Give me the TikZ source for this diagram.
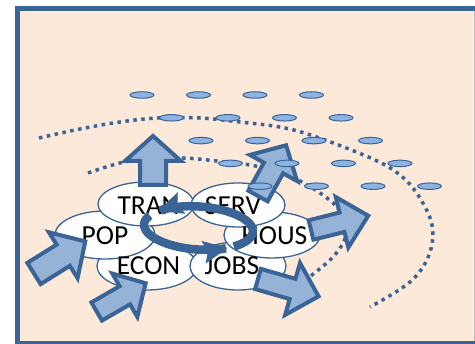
\documentclass[tikz,border=0pt]{standalone}
\usepackage{fontspec}
\newfontfamily\calib{Carlito}
\usetikzlibrary{shapes.geometric,arrows.meta}
\definecolor{peach}{HTML}{FDE9D9}
\definecolor{dkblue}{HTML}{3A6496}
\definecolor{arrfill}{HTML}{95B3D7}
\definecolor{dotfill}{HTML}{8DB3E2}
\tikzset{
 blob/.style={ellipse, draw=dkblue, line width=1.3pt, fill=white, inner sep=0pt},
 lbl/.style={font=\calib\fontsize{27.5}{27.5}\selectfont, inner sep=0pt, anchor=base, text=black},
 dotE/.style={ellipse, draw=dkblue, line width=1pt, fill=dotfill, minimum width=24pt, minimum height=6.5pt, inner sep=0pt},
 barrowstyle/.style={draw=dkblue, fill=arrfill, line width=4pt, line join=miter},
 dotline/.style={draw=dkblue, line width=3.5pt, dash pattern=on 3.5pt off 4.5pt},
 ring/.style={draw=dkblue, line width=8.5pt, -{Stealth[length=24pt,width=22pt,inset=4pt]}},
}
% #1 x, #2 y (tail centre), #3 angle, #4 length, #5 shaft half width, #6 head half width, #7 head length
\newcommand\blockarr[7]{%
 \begin{scope}[shift={(#1,#2)}, rotate=#3]
 \draw[barrowstyle] (0,-#5) -- (#4-#7,-#5) -- (#4-#7,-#6) -- (#4,0) -- (#4-#7,#6) -- (#4-#7,#5) -- (0,#5) -- cycle;
 \end{scope}}
\begin{document}
\begin{tikzpicture}[x=1pt,y=-1pt]
\useasboundingbox (0,0) rectangle (475,344);
\clip (0,0) rectangle (475,344);
\fill[white] (0,0) rectangle (475,344);
\fill[peach] (17.5,8.5) rectangle (480,350);
% dotted curves
\draw[dotline] plot[smooth, tension=0.6] coordinates {(39,138) (80,129) (120,122) (158,118) (200,118) (240,122) (285,128) (325,140) (375,160) (400,175) (418,195) (432,225) (429,255) (410,282) (370,307)};
\draw[dotline] plot[smooth, tension=0.6] coordinates {(88,173) (120,163) (150,159) (183,158) (217,161) (250,165) (280,172) (302,182) (320,193) (337,207) (346,225) (344,241) (332,258) (312,275) (300,284)};
% central ellipses
\node[blob, minimum width=100pt, minimum height=48pt] (eECON) at (147,266) {};
\node[blob, minimum width=96pt, minimum height=48pt] (eJOBS) at (238,266) {};
\node[blob, minimum width=100pt, minimum height=48pt] (ePOP) at (105,235) {};
\node[blob, minimum width=96pt, minimum height=46pt] (eHOUS) at (272,235) {};
\node[blob, minimum width=96pt, minimum height=44pt] (eTRAN) at (146,204) {};
\node[blob, minimum width=94pt, minimum height=44pt] (eSERV) at (238,205) {};
% labels
\node[lbl] (tTRAN) at (148.5,215) {TRAN};
\node[lbl] (tSERV) at (233,215) {SERV};
\node[lbl] (tPOP) at (105,245) {POP};
\node[lbl] (tHOUS) at (274.5,245) {HOUS};
\node[lbl] (tECON) at (148.5,275) {ECON};
\node[lbl] (tJOBS) at (232,275) {JOBS};
% block arrows
\blockarr{153}{185}{90}{49}{13}{28}{25}
\blockarr{258}{196}{61}{58}{11}{27}{26}
\blockarr{311}{230}{14}{59}{10}{26}{27}
\blockarr{258}{279}{-16}{63}{10.5}{27}{27}
\blockarr{34}{273.5}{32}{60.5}{12.5}{27}{26}
\blockarr{96.7}{311.5}{30}{56.5}{10.5}{25}{24}
% circular arrows
\draw[ring] plot[domain=-48:139, samples=70, variable=\t] ({198.5+54.37*cos(\t)+1.5*sin(\t)},{228+3.8*cos(\t)-21.45*sin(\t)});
\draw[ring] plot[domain=155:304, samples=70, variable=\t] ({198.5+54.37*cos(\t)+1.5*sin(\t)},{228+3.8*cos(\t)-21.45*sin(\t)});
% dots
\foreach \r in {0,...,4}{
 \foreach \c in {0,...,3}{
  \node[dotE] (d\r\c) at ({142+29.5*\r+56.5*\c},{95+22.8*\r}) {};
 }
}
% frame
\draw[dkblue, line width=5pt] (17.5,350) -- (17.5,8.5) -- (480,8.5);
\draw[dkblue, line width=5pt] (15,343.5) -- (480,343.5);
\draw[gray!50, line width=0.8pt] (474.5,11) -- (474.5,341);
\end{tikzpicture}
\end{document}
